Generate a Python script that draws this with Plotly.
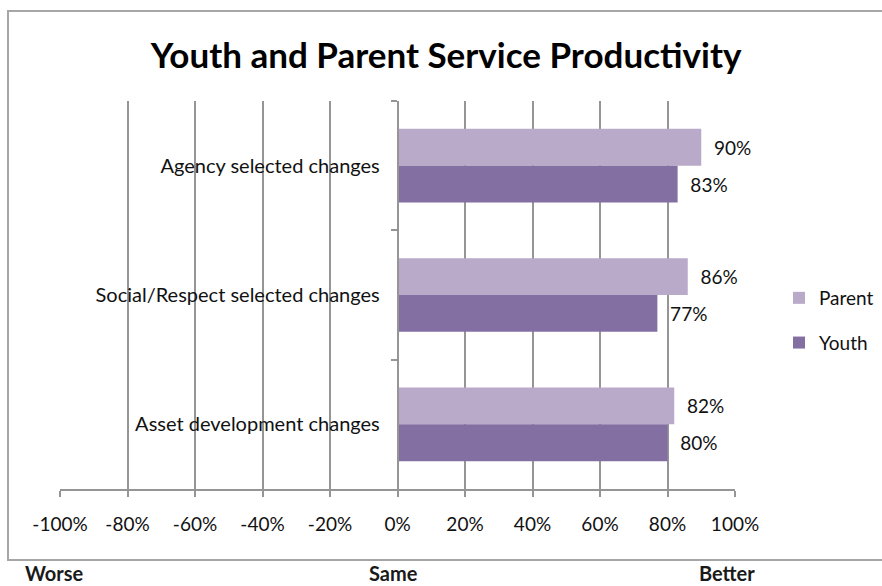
import plotly.graph_objects as go

# Survey categories, top to bottom
categories = ["Agency selected changes", "Social/Respect selected changes", "Asset development changes"]
parent_pct = [90, 86, 82]
youth_pct = [83, 77, 80]
x_ticks = [-100, -80, -60, -40, -20, 0, 20, 40, 60, 80, 100]
x_tick_labels = [f"{v}%" for v in x_ticks]

W, H = 882, 586
L, R, T, B = 60, 147, 101, 97
PW, PH = W - L - R, H - T - B


def px_x(p):
    return (p - L) / PW


def px_y(p):
    return (H - B - p) / PH


FONT = "Lato, Open Sans, sans-serif"
GRID = "#959595"


def bar_labels(values):
    return ["  " + f"{v}%" for v in values]


fig = go.Figure()
fig.add_trace(go.Bar(
    y=categories, x=parent_pct, name="Parent", orientation="h",
    marker=dict(color="#B9AACA", line=dict(width=0)),
    text=bar_labels(parent_pct), texttemplate="%{text}", textposition="outside",
    textfont=dict(family=FONT, size=19, color="#111"),
    cliponaxis=False, legendgroup="p", hoverinfo="x+y",
))
fig.add_trace(go.Bar(
    y=categories, x=youth_pct, name="Youth", orientation="h",
    marker=dict(color="#846FA3", line=dict(width=0)),
    text=bar_labels(youth_pct), texttemplate="%{text}", textposition="outside",
    textfont=dict(family=FONT, size=19, color="#111"),
    cliponaxis=False, legendgroup="y", hoverinfo="x+y",
))

fig.update_layout(
    width=W, height=H,
    margin=dict(l=L, r=R, t=T, b=B, autoexpand=False),
    paper_bgcolor="white", plot_bgcolor="white",
    barmode="group", bargap=0.43, bargroupgap=0,
    uniformtext=dict(mode=False),
    font=dict(family=FONT, size=18, color="#111"),
    title=dict(
        text="<b>Youth and Parent Service Productivity</b>",
        x=446 / W, xanchor="center", y=1 - 56 / H, yanchor="middle",
        yref="container", font=dict(family=FONT, size=35, color="#000"),
    ),
    xaxis=dict(
        range=[-100, 100], tickvals=x_ticks, ticktext=x_tick_labels,
        showgrid=True, gridcolor=GRID, gridwidth=1.5,
        zeroline=False, showline=True, linecolor=GRID, linewidth=1.5,
        ticks="outside", ticklen=6, tickcolor=GRID, tickwidth=1.5,
        ticklabelstandoff=11,
        tickfont=dict(family=FONT, size=19, color="#111"),
        fixedrange=True,
    ),
    yaxis=dict(
        autorange="reversed", anchor="free", position=0.5,
        showline=True, linecolor=GRID, linewidth=1.5,
        ticks="outside", ticklen=6, tickcolor=GRID, tickwidth=1.5,
        tickson="boundaries", showgrid=False, zeroline=False,
        ticklabelstandoff=13,
        tickfont=dict(family=FONT, size=20, color="#111"),
        fixedrange=True,
    ),
    legend=dict(
        x=px_x(779), xanchor="left", y=px_y(279), yanchor="top",
        font=dict(family=FONT, size=19, color="#111"),
        tracegroupgap=17, bgcolor="rgba(0,0,0,0)",
    ),
    showlegend=True,
)

# Chart frame
fig.add_shape(
    type="rect", xref="paper", yref="paper",
    x0=px_x(8), x1=px_x(892), y0=px_y(560), y1=px_y(11),
    line=dict(color="#A6A6A6", width=2), fillcolor="rgba(0,0,0,0)", layer="below",
)

# Scale captions under the frame
for label, xp, anchor in [("Worse", 23, "left"), ("Same", 393, "center"), ("Better", 727, "center")]:
    fig.add_annotation(
        text=f"<b>{label}</b>", xref="paper", yref="paper",
        x=px_x(xp), xanchor=anchor, y=px_y(573), yanchor="middle",
        showarrow=False, font=dict(family=FONT, size=20, color="#1a1a1a"),
    )

fig.write_html("out.html")
